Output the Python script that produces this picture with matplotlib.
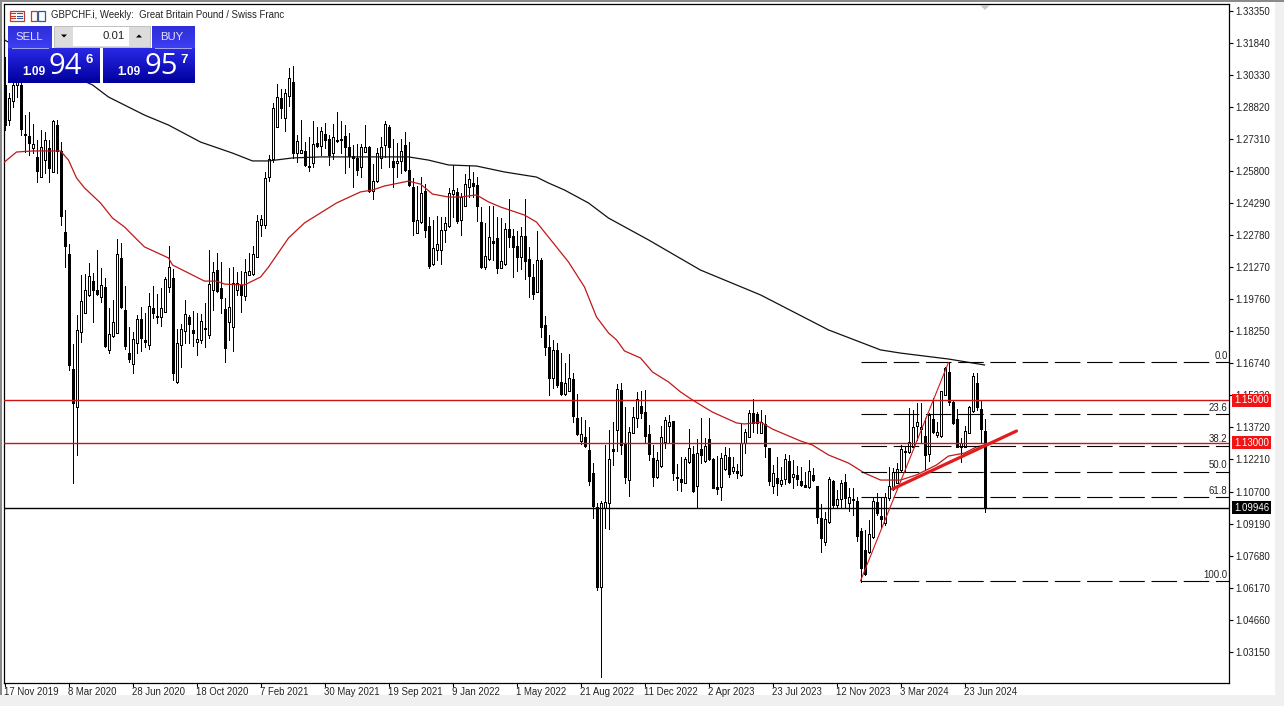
"""GBPCHF weekly candles in the MT5 terminal look."""

import numpy as np
import matplotlib
matplotlib.use('Agg')
import matplotlib.pyplot as plt
from matplotlib.patches import Rectangle, Polygon

plt.rcParams['font.family'] = ['Liberation Sans', 'DejaVu Sans']

# weekly candles: D = down bar (black), U = up bar (white)
directions = ('DUUUDDDUDU' 'UDUDDDDDUU' 'UUDDUDUUUD' 'DDUUDDUDDU' 'UUDUUUDDUU'
              'DUUDDDUUUD' 'UUUUUUUUUD' 'UUDUUDDUDU' 'DDUDDDDDDU' 'UDUUUUDDUU'
              'DDDUUDDUUU' 'UUUDUUUDDD' 'UUDDUUDDDU' 'DDDUDDDUDD' 'UUDDUDDDDU'
              'UUDUDDUUUD' 'DDDUUUUDDD' 'UUDUDUDDDU' 'UDUDUUUDDU' 'DDUDUUDUDD'
              'DUDDDUUDUU' 'DUDDDDUUDD' 'UUUUUDUUUU' 'DUDUUUDDDU' 'UUUDDD')
body_tops = [
    1.2985, 1.2923, 1.2985, 1.3032, 1.2985, 1.2754, 1.2744, 1.2707, 1.2646, 1.2693,
    1.2726, 1.2688, 1.2815, 1.2796, 1.2674, 1.2292, 1.2189, 1.1647, 1.1831, 1.1967,
    1.2019, 1.2085, 1.2061, 1.2019, 1.2043, 1.2033, 1.1812, 1.1868, 1.2189, 1.2170,
    1.1925, 1.1722, 1.1788, 1.1882, 1.1882, 1.1784, 1.1944, 1.1934, 1.1897, 1.1934,
    1.2071, 1.2127, 1.2076, 1.1769, 1.1835, 1.1906, 1.1892, 1.1831, 1.1788, 1.1873,
    1.1840, 1.2047, 1.2104, 1.2113, 1.2028, 1.1930, 1.1939, 1.2052, 1.2052, 1.2043,
    1.2104, 1.2109, 1.2189, 1.2344, 1.2354, 1.2547, 1.2636, 1.2876, 1.2928, 1.2923,
    1.2947, 1.3018, 1.2999, 1.2721, 1.2678, 1.2674, 1.2603, 1.2707, 1.2711, 1.2768,
    1.2754, 1.2730, 1.2740, 1.2726, 1.2730, 1.2744, 1.2693, 1.2650, 1.2641, 1.2693,
    1.2693, 1.2693, 1.2532, 1.2664, 1.2693, 1.2801, 1.2787, 1.2627, 1.2627, 1.2674,
    1.2702, 1.2584, 1.2504, 1.2349, 1.2476, 1.2485, 1.2321, 1.2217, 1.2236, 1.2302,
    1.2335, 1.2476, 1.2490, 1.2481, 1.2457, 1.2518, 1.2542, 1.2523, 1.2514, 1.2339,
    1.2179, 1.2269, 1.2250, 1.2264, 1.2156, 1.2306, 1.2306, 1.2273, 1.2226, 1.2273,
    1.2273, 1.2165, 1.2080, 1.2160, 1.2160, 1.1854, 1.1751, 1.1737, 1.1737, 1.1586,
    1.1581, 1.1605, 1.1600, 1.1416, 1.1341, 1.1327, 1.1265, 1.1157, 1.0997, 1.1016,
    1.1021, 1.1223, 1.1270, 1.1553, 1.1548, 1.1294, 1.1350, 1.1421, 1.1506, 1.1473,
    1.1444, 1.1341, 1.1228, 1.1218, 1.1327, 1.1407, 1.1397, 1.1402, 1.1138, 1.1129,
    1.1223, 1.1275, 1.1247, 1.1251, 1.1270, 1.1284, 1.1317, 1.1223, 1.1091, 1.1228,
    1.1242, 1.1233, 1.1185, 1.1167, 1.1298, 1.1350, 1.1440, 1.1440, 1.1435, 1.1397,
    1.1388, 1.1275, 1.1157, 1.1134, 1.1124, 1.1223, 1.1214, 1.1152, 1.1148, 1.1119,
    1.1101, 1.1167, 1.1148, 1.1096, 1.0945, 1.0941, 1.1129, 1.1119, 1.1035, 1.1110,
    1.1115, 1.1044, 1.1035, 1.1025, 1.0884, 1.0794, 1.0870, 1.1025, 1.1021, 1.0955,
    1.1044, 1.1096, 1.1162, 1.1176, 1.1270, 1.1261, 1.1303, 1.1374, 1.1397, 1.1374,
    1.1331, 1.1430, 1.1411, 1.1350, 1.1543, 1.1652, 1.1633, 1.1492, 1.1411, 1.1298,
    1.1355, 1.1468, 1.1614, 1.1581, 1.1459, 1.1355]
body_bottoms = [
    1.2796, 1.2820, 1.2909, 1.2985, 1.2777, 1.2749, 1.2712, 1.2688, 1.2580, 1.2551,
    1.2631, 1.2594, 1.2575, 1.2674, 1.2368, 1.2226, 1.1666, 1.1487, 1.1468, 1.1821,
    1.1911, 1.1996, 1.2019, 1.2000, 1.1986, 1.1755, 1.1737, 1.1802, 1.1817, 1.1939,
    1.1755, 1.1694, 1.1671, 1.1769, 1.1793, 1.1774, 1.1760, 1.1911, 1.1892, 1.1892,
    1.1915, 1.2033, 1.1628, 1.1586, 1.1760, 1.1826, 1.1859, 1.1817, 1.1774, 1.1784,
    1.1835, 1.1807, 1.2019, 1.2014, 1.1981, 1.1746, 1.1868, 1.1845, 1.2019, 1.1996,
    1.1991, 1.2090, 1.2094, 1.2174, 1.2325, 1.2325, 1.2551, 1.2636, 1.2787, 1.2876,
    1.2829, 1.2933, 1.2664, 1.2664, 1.2664, 1.2608, 1.2598, 1.2617, 1.2697, 1.2697,
    1.2726, 1.2655, 1.2664, 1.2721, 1.2726, 1.2693, 1.2650, 1.2641, 1.2584, 1.2598,
    1.2669, 1.2485, 1.2485, 1.2532, 1.2641, 1.2702, 1.2693, 1.2598, 1.2617, 1.2627,
    1.2584, 1.2514, 1.2344, 1.2288, 1.2339, 1.2302, 1.2132, 1.2142, 1.2207, 1.2207,
    1.2302, 1.2321, 1.2471, 1.2344, 1.2349, 1.2415, 1.2504, 1.2509, 1.2415, 1.2127,
    1.2127, 1.2165, 1.2240, 1.2123, 1.2123, 1.2142, 1.2269, 1.2222, 1.2174, 1.2174,
    1.2156, 1.2085, 1.2000, 1.2010, 1.1845, 1.1751, 1.1605, 1.1605, 1.1572, 1.1529,
    1.1529, 1.1543, 1.1426, 1.1341, 1.1308, 1.1284, 1.1119, 1.1002, 1.0620, 1.0620,
    1.0992, 1.1016, 1.1261, 1.1360, 1.1289, 1.1138, 1.1124, 1.1346, 1.1416, 1.1440,
    1.1331, 1.1247, 1.1138, 1.1138, 1.1190, 1.1303, 1.1379, 1.1157, 1.1134, 1.1115,
    1.1110, 1.1209, 1.1072, 1.1096, 1.1242, 1.1214, 1.1223, 1.1087, 1.1082, 1.1091,
    1.1176, 1.1152, 1.1167, 1.1157, 1.1148, 1.1298, 1.1327, 1.1393, 1.1393, 1.1346,
    1.1284, 1.1119, 1.1096, 1.1110, 1.1105, 1.1129, 1.1115, 1.1138, 1.1129, 1.1101,
    1.1091, 1.1091, 1.1124, 1.0950, 1.0851, 1.0832, 1.0926, 1.1006, 1.1006, 1.1035,
    1.1039, 1.1016, 1.1030, 1.0860, 1.0710, 1.0681, 1.0785, 1.0856, 1.0969, 1.0941,
    1.0922, 1.1039, 1.1082, 1.1110, 1.1171, 1.1256, 1.1256, 1.1280, 1.1379, 1.1364,
    1.1242, 1.1247, 1.1350, 1.1336, 1.1331, 1.1525, 1.1492, 1.1393, 1.1280, 1.1280,
    1.1280, 1.1346, 1.1449, 1.1468, 1.1364, 1.09946]
highs = [
    1.3117, 1.2947, 1.3008, 1.3117, 1.3008, 1.2843, 1.2857, 1.2801, 1.2726, 1.2773,
    1.2763, 1.2726, 1.2820, 1.2820, 1.2716, 1.2396, 1.2236, 1.1765, 1.1901, 1.2090,
    1.2094, 1.2146, 1.2099, 1.2207, 1.2123, 1.2076, 1.1934, 1.1972, 1.2259, 1.2240,
    1.2038, 1.1845, 1.1821, 1.1901, 1.1939, 1.1911, 1.2005, 1.2038, 1.2000, 1.2028,
    1.2080, 1.2226, 1.2118, 1.1835, 1.1859, 1.1972, 1.1901, 1.1920, 1.1911, 1.1906,
    1.1958, 1.2207, 1.2151, 1.2193, 1.2151, 1.1981, 1.2123, 1.2127, 1.2104, 1.2109,
    1.2165, 1.2193, 1.2226, 1.2372, 1.2372, 1.2575, 1.2655, 1.2900, 1.2989, 1.2966,
    1.2966, 1.3065, 1.3074, 1.2749, 1.2820, 1.2716, 1.2740, 1.2815, 1.2787, 1.2787,
    1.2806, 1.2749, 1.2801, 1.2857, 1.2815, 1.2796, 1.2759, 1.2702, 1.2707, 1.2707,
    1.2796, 1.2697, 1.2613, 1.2688, 1.2740, 1.2815, 1.2796, 1.2730, 1.2711, 1.2730,
    1.2763, 1.2716, 1.2547, 1.2509, 1.2551, 1.2518, 1.2363, 1.2349, 1.2368, 1.2363,
    1.2363, 1.2500, 1.2608, 1.2500, 1.2476, 1.2565, 1.2603, 1.2575, 1.2551, 1.2410,
    1.2335, 1.2415, 1.2415, 1.2363, 1.2358, 1.2335, 1.2448, 1.2306, 1.2297, 1.2316,
    1.2448, 1.2222, 1.2142, 1.2297, 1.2170, 1.1897, 1.1807, 1.1784, 1.1769, 1.1722,
    1.1675, 1.1718, 1.1628, 1.1529, 1.1421, 1.1407, 1.1374, 1.1204, 1.1016, 1.1025,
    1.1289, 1.1360, 1.1397, 1.1576, 1.1581, 1.1468, 1.1374, 1.1468, 1.1539, 1.1543,
    1.1548, 1.1383, 1.1289, 1.1256, 1.1379, 1.1421, 1.1430, 1.1402, 1.1200, 1.1233,
    1.1233, 1.1364, 1.1284, 1.1317, 1.1416, 1.1322, 1.1416, 1.1228, 1.1237, 1.1251,
    1.1280, 1.1275, 1.1233, 1.1200, 1.1393, 1.1364, 1.1454, 1.1506, 1.1444, 1.1454,
    1.1430, 1.1275, 1.1195, 1.1233, 1.1185, 1.1247, 1.1242, 1.1218, 1.1190, 1.1185,
    1.1162, 1.1218, 1.1181, 1.1096, 1.1011, 1.0973, 1.1138, 1.1124, 1.1077, 1.1124,
    1.1152, 1.1087, 1.1087, 1.1044, 1.0898, 1.0889, 1.0936, 1.1044, 1.1063, 1.1044,
    1.1063, 1.1185, 1.1181, 1.1204, 1.1289, 1.1280, 1.1463, 1.1454, 1.1487, 1.1487,
    1.1416, 1.1440, 1.1510, 1.1397, 1.1543, 1.1656, 1.1675, 1.1501, 1.1459, 1.1322,
    1.1379, 1.1473, 1.1628, 1.1628, 1.1501, 1.1411]
lows = [
    1.2773, 1.2796, 1.2881, 1.2928, 1.2749, 1.2669, 1.2655, 1.2664, 1.2528, 1.2551,
    1.2570, 1.2528, 1.2575, 1.2570, 1.2325, 1.2127, 1.1642, 1.1110, 1.1242, 1.1774,
    1.1911, 1.1991, 1.1868, 1.1996, 1.1963, 1.1751, 1.1722, 1.1798, 1.1817, 1.1934,
    1.1741, 1.1680, 1.1628, 1.1722, 1.1732, 1.1751, 1.1741, 1.1887, 1.1864, 1.1850,
    1.1915, 1.2010, 1.1595, 1.1581, 1.1656, 1.1769, 1.1769, 1.1755, 1.1713, 1.1769,
    1.1751, 1.1793, 1.1925, 1.2010, 1.1911, 1.1680, 1.1784, 1.1732, 1.1996, 1.1915,
    1.1972, 1.2090, 1.2090, 1.2174, 1.2273, 1.2311, 1.2532, 1.2622, 1.2787, 1.2829,
    1.2768, 1.2886, 1.2641, 1.2622, 1.2664, 1.2603, 1.2580, 1.2598, 1.2693, 1.2655,
    1.2688, 1.2608, 1.2636, 1.2716, 1.2664, 1.2570, 1.2598, 1.2504, 1.2561, 1.2551,
    1.2669, 1.2481, 1.2448, 1.2528, 1.2594, 1.2646, 1.2598, 1.2504, 1.2551, 1.2570,
    1.2580, 1.2509, 1.2278, 1.2288, 1.2335, 1.2269, 1.2123, 1.2137, 1.2160, 1.2142,
    1.2245, 1.2316, 1.2363, 1.2335, 1.2278, 1.2415, 1.2457, 1.2457, 1.2344, 1.2123,
    1.2118, 1.2160, 1.2160, 1.2099, 1.2123, 1.2137, 1.2222, 1.2080, 1.2109, 1.2118,
    1.2071, 1.1986, 1.1977, 1.2010, 1.1798, 1.1713, 1.1525, 1.1558, 1.1562, 1.1525,
    1.1525, 1.1543, 1.1397, 1.1336, 1.1294, 1.1280, 1.1101, 1.0945, 1.0606, 1.0196,
    1.0898, 1.0893, 1.1195, 1.1261, 1.1247, 1.1110, 1.1049, 1.1346, 1.1374, 1.1416,
    1.1298, 1.1218, 1.1096, 1.1134, 1.1185, 1.1275, 1.1303, 1.1124, 1.1077, 1.1072,
    1.1110, 1.1204, 1.1068, 1.0992, 1.1204, 1.1209, 1.1218, 1.1087, 1.1058, 1.1030,
    1.1171, 1.1138, 1.1157, 1.1134, 1.1143, 1.1251, 1.1327, 1.1350, 1.1346, 1.1346,
    1.1233, 1.1101, 1.1063, 1.1054, 1.1096, 1.1105, 1.1110, 1.1087, 1.1101, 1.1096,
    1.1091, 1.1087, 1.1120, 1.0922, 1.0785, 1.0818, 1.0922, 1.0992, 1.0997, 1.0992,
    1.0997, 1.0978, 1.0959, 1.0837, 1.0644, 1.0677, 1.0780, 1.0851, 1.0959, 1.0903,
    1.0912, 1.1030, 1.1077, 1.1110, 1.1162, 1.1162, 1.1251, 1.1280, 1.1313, 1.1298,
    1.1171, 1.1214, 1.1346, 1.1327, 1.1327, 1.1525, 1.1477, 1.1388, 1.1280, 1.1209,
    1.1280, 1.1346, 1.1445, 1.1454, 1.1298, 1.0974]

# moving averages, read at the bars where the curves bend
ma_fast_bars = [
    0, 3, 7, 14, 16, 18, 20, 24, 27, 30, 33, 35, 41, 42, 46, 50, 53, 55, 60, 64,
    66, 71, 75, 83, 89, 92, 95, 101, 104, 107, 111, 114, 118, 121, 124, 130, 133,
    135, 141, 145, 148, 151, 153, 155, 159, 162, 166, 169, 172, 177, 183, 185,
    189, 192, 199, 202, 206, 211, 215, 219, 224, 228, 233, 236, 240, 243, 245]
ma_fast = [
    1.2622, 1.2669, 1.2674, 1.2674, 1.2631, 1.2547, 1.2500, 1.2429, 1.2358, 1.2316,
    1.2259, 1.2222, 1.2170, 1.2137, 1.2099, 1.2061, 1.2061, 1.2047, 1.2043, 1.2080,
    1.2127, 1.2264, 1.2335, 1.2429, 1.2481, 1.2490, 1.2509, 1.2532, 1.2518, 1.2471,
    1.2457, 1.2457, 1.2467, 1.2434, 1.2410, 1.2372, 1.2339, 1.2292, 1.2151, 1.2033,
    1.1892, 1.1817, 1.1784, 1.1732, 1.1699, 1.1633, 1.1586, 1.1539, 1.1501, 1.1444,
    1.1393, 1.1388, 1.1397, 1.1364, 1.1308, 1.1289, 1.1242, 1.1204, 1.1157, 1.1124,
    1.1124, 1.1148, 1.1195, 1.1237, 1.1251, 1.1280, 1.1289]
ma_slow_bars = [
    0, 11, 22, 26, 35, 41, 49, 57, 62, 66, 72, 79, 91, 101, 106, 111, 118, 125,
    133, 136, 140, 146, 151, 161, 174, 189, 206, 219, 224, 236, 245]
ma_slow = [
    1.3197, 1.3079, 1.2985, 1.2928, 1.2843, 1.2796, 1.2716, 1.2664, 1.2627, 1.2627,
    1.2641, 1.2646, 1.2646, 1.2646, 1.2631, 1.2608, 1.2603, 1.2575, 1.2551, 1.2523,
    1.2490, 1.2429, 1.2358, 1.2255, 1.2113, 1.1996, 1.1831, 1.1737, 1.1722, 1.1694,
    1.1666]

# axis labels
price_ticks = [1.33350, 1.31840, 1.30330, 1.28820, 1.27310, 1.25800, 1.24290,
               1.22780, 1.21270, 1.19760, 1.18250, 1.16740, 1.15230, 1.13720,
               1.12210, 1.10700, 1.09190, 1.07680, 1.06170, 1.04660, 1.03150]
date_labels = ['17 Nov 2019', '8 Mar 2020', '28 Jun 2020', '18 Oct 2020',
               '7 Feb 2021', '30 May 2021', '19 Sep 2021', '9 Jan 2022',
               '1 May 2022', '21 Aug 2022', '11 Dec 2022', '2 Apr 2023',
               '23 Jul 2023', '12 Nov 2023', '3 Mar 2024', '23 Jun 2024']

# horizontal levels and drawn objects
red_levels = [1.15000, 1.13000]
bid_price = 1.09946
fib_high, fib_low = 1.1678, 1.0649
fib_bars = (214, 236)
fib_levels = [0.0, 23.6, 38.2, 50.0, 61.8, 100.0]
trend_bars = (222, 253)
trend_prices = (1.1082, 1.1355)

W, H = 1284, 706
LEFT, RIGHT, TOP, BOTTOM = 4, 1229, 4, 683
FONT = 6.9

fig = plt.figure(figsize=(W/100, H/100), dpi=100, facecolor='#f0f0f0')

# pixel overlay below and above the chart
back = fig.add_axes([0, 0, 1, 1], zorder=0)
back.set_xlim(0, W)
back.set_ylim(H, 0)
back.axis('off')
back.add_patch(Rectangle((0, 0), 1275, 695, fc='white', ec='none'))
back.add_patch(Rectangle((0, 0), 2, 695, fc='#8a8a8a', ec='none'))
back.add_patch(Rectangle((0, 0), W, 2, fc='#8a8a8a', ec='none'))

ax = fig.add_axes([LEFT/W, 1 - BOTTOM/H, (RIGHT-LEFT)/W, (BOTTOM-TOP)/H], zorder=1)
ax.patch.set_alpha(0)
ax.set_xlim((LEFT-4.5)/4, (RIGHT-4.5)/4)
ax.set_ylim(1.3385 - 0.000471*BOTTOM, 1.3385 - 0.000471*TOP)

# candles
bars = np.arange(len(body_tops))
tops, bottoms = np.array(body_tops), np.array(body_bottoms)
fills = ['k' if d == 'D' else 'w' for d in directions]
ax.vlines(bars, lows, highs, color='k', lw=0.6, antialiased=False, zorder=2)
ax.bar(bars, tops-bottoms, bottom=bottoms, width=0.5, color=fills, edgecolor='k',
       lw=0.6, antialiased=False, zorder=3)

# moving averages
ax.plot(ma_slow_bars, ma_slow, color='#111111', lw=0.9, zorder=4)
ax.plot(ma_fast_bars, ma_fast, color='#c01818', lw=0.9, zorder=4)

# levels
for level in red_levels:
    ax.axhline(level, color='#cc1414', lw=1.0, zorder=4)
ax.axhline(bid_price, color='k', lw=1.0, zorder=4)

# fibonacci retracement
ax.plot(fib_bars, (fib_low, fib_high), color='#d01818', lw=0.8, zorder=5)
for level in fib_levels:
    price = fib_high - (fib_high-fib_low)*level/100
    ax.plot((fib_bars[0], ax.get_xlim()[1]), (price, price), color='k', lw=0.8,
            ls=(0, (23, 6)), zorder=4)
    ax.annotate('%.1f' % level, (1, price), xycoords=('axes fraction', 'data'),
                xytext=(-1, 1), textcoords='offset points', ha='right', va='bottom',
                fontsize=FONT, color='#222222')

# trend line
ax.plot(trend_bars, trend_prices, color='#e01c1c', lw=2.3, zorder=6,
        solid_capstyle='round', clip_on=False)

# axes
ax.yaxis.tick_right()
ax.set_yticks(price_ticks, ['%.5f' % p for p in price_ticks])
ax.set_xticks(bars[::16][:len(date_labels)], date_labels, ha='left')
ax.tick_params(length=3, width=0.8, pad=1.5, labelsize=FONT, labelcolor='#222222')
ax.tick_params(axis='x', pad=0)
for spine in ax.spines.values():
    spine.set_linewidth(0.9)

# terminal widgets on top
top = fig.add_axes([0, 0, 1, 1], zorder=2)
top.patch.set_alpha(0)
top.axis('off')


def gradient(x0, y0, x1, y1, c0, c1):
    """Vertical colour ramp between two rgb colours."""
    ramp = np.linspace(c0, c1, 32)[:, None, :]
    top.imshow(ramp, extent=(x0, x1, y1, y0), aspect='auto', interpolation='bilinear')


# right hand price tags
for level, color in zip(red_levels + [bid_price], ['#f01414', '#f01414', 'k']):
    y = (1.3385-level)/0.000471
    top.add_patch(Rectangle((1232, y-6.5), 39, 13, fc=color, ec='none'))
    top.text(1251.5, y, '%.5f' % level, color='w', fontsize=FONT, ha='center', va='center')

# shift marker
top.add_patch(Polygon([(980, 5), (990, 5), (985, 10)], fc='#c8c8c8', ec='none'))

# title and little icons
top.add_patch(Rectangle((9.5, 10.5), 14, 10, fc='white', ec='#c03a2a', lw=0.9))
for y in (13, 15.5, 18):
    top.plot((11, 15), (y, y), color='#c03a2a', lw=0.8)
    top.plot((17, 22), (y, y), color='#2a5aa0', lw=0.8)
top.add_patch(Rectangle((30.5, 10.5), 6, 10, fc='white', ec='#c03a2a', lw=0.9))
top.add_patch(Rectangle((37.5, 10.5), 7, 10, fc='white', ec='#2a5aa0', lw=0.9))
top.text(51, 15.5, 'GBPCHF.i, Weekly:  Great Britain Pound / Swiss Franc',
         fontsize=FONT, color='#222222', va='center')

# one click trading panel
blue_top, blue_bottom = (0.16, 0.16, 0.90), (0.0, 0.0, 0.62)
button_top, button_bottom = (0.18, 0.18, 0.85), (0.24, 0.24, 0.95)
gradient(8, 26, 52, 48, button_top, button_bottom)
gradient(152, 26, 195, 48, button_top, button_bottom)
gradient(8, 48, 100, 83, blue_top, blue_bottom)
gradient(103, 48, 195, 83, blue_top, blue_bottom)
top.plot((12, 48), (47.5, 47.5), color='#a8a8f0', lw=0.7)
top.plot((155, 191), (47.5, 47.5), color='#a8a8f0', lw=0.7)
top.text(29, 36.5, 'SELL', color='#e4e4ff', fontsize=8.2, ha='center', va='center')
top.text(172, 36.5, 'BUY', color='#e4e4ff', fontsize=8.2, ha='center', va='center')

top.add_patch(Rectangle((54, 26), 96, 21, fc='#dcdcdc', ec='#c0c0c0', lw=0.7))
top.add_patch(Rectangle((73, 27), 56, 19, fc='white', ec='none'))
top.text(125, 36, '0.01', fontsize=8.2, ha='right', va='center', color='#222222')
top.add_patch(Polygon([(61, 34.5), (67, 34.5), (64, 37.5)], fc='k', ec='none'))
top.add_patch(Polygon([(136, 37.5), (142, 37.5), (139, 34.5)], fc='k', ec='none'))

for x, big, small in ((8, '94', '6'), (103, '95', '7')):
    top.text(x+14, 72, '1.09', color='w', fontsize=8.6, fontweight='bold', va='center')
    top.text(x+41, 66, big, color='w', fontsize=21, family='Open Sans', va='center')
    top.text(x+77, 60, small, color='w', fontsize=9.5, fontweight='bold', va='center')

top.set_xlim(0, W)
top.set_ylim(H, 0)

fig.savefig('out.png', dpi=100, facecolor=fig.get_facecolor())
